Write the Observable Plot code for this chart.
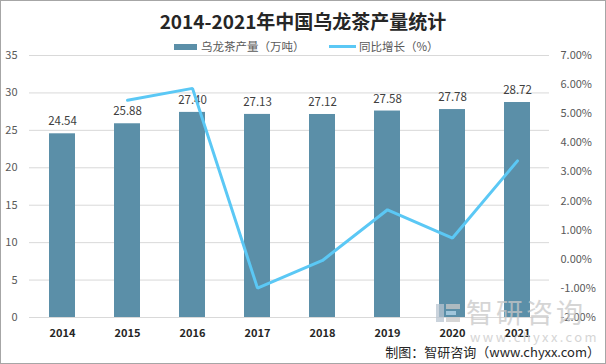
<!DOCTYPE html>
<html><head><meta charset="utf-8">
<script src="https://cdn.jsdelivr.net/npm/d3@7"></script>
<script src="https://cdn.jsdelivr.net/npm/@observablehq/plot@0.6"></script>
<style>
body{margin:0;background:#fff;}
#wrap{position:relative;width:606px;height:364px;overflow:hidden;font-family:"Noto Sans CJK SC","Noto Sans",sans-serif;}
#border{position:absolute;left:0;top:0;width:604px;height:362px;border:1px solid #a6a6a6;pointer-events:none;}
#title{position:absolute;left:0;width:606px;top:8px;text-align:center;font-size:19px;font-weight:bold;color:#262626;line-height:26px;}
.leg{position:absolute;top:38px;font-size:11.5px;color:#595959;line-height:16px;white-space:nowrap;}
.sw{position:absolute;}
#caption{position:absolute;right:6px;top:343px;font-size:13px;color:#262626;line-height:18px;white-space:nowrap;}
.wm{position:absolute;color:#c8c8c8;white-space:nowrap;opacity:0.75;}
</style></head>
<body>
<div id="wrap">
  <div id="chart"></div>
  <div class="wm" style="left:436px;top:304px;width:8px;height:18px;background:#b8c4d0;"></div>
  <div class="wm" style="left:446px;top:304px;width:14px;height:5px;background:#c8c8c8;"></div>
  <div class="wm" style="left:446px;top:311px;width:10px;height:4px;background:#b8d8ec;"></div>
  <div class="wm" style="left:446px;top:317px;width:14px;height:5px;background:#c8c8c8;"></div>
  <div class="wm" style="left:466px;top:293px;font-size:27px;letter-spacing:3px;line-height:38px;">智研咨询</div>
  <div class="wm" style="left:470px;top:329px;font-size:13px;letter-spacing:2.4px;line-height:16px;">www.chyxx.com</div>
  <div id="title">2014-2021年中国乌龙茶产量统计</div>
  <div class="sw" style="left:174px;top:44px;width:23px;height:6px;background:#5B8FA8;"></div>
  <div class="leg" style="left:201px;">乌龙茶产量（万吨）</div>
  <div class="sw" style="left:329px;top:45px;width:27px;height:3px;background:#5BC8F5;"></div>
  <div class="leg" style="left:359px;">同比增长（%）</div>
  <div id="caption">制图：智研咨询（www.chyxx.com）</div>
  <div id="border"></div>
</div>
<script>
const years = ["2014","2015","2016","2017","2018","2019","2020","2021"];
const output = [24.54, 25.88, 27.40, 27.13, 27.12, 27.58, 27.78, 28.72];
const growthYears = ["2015","2016","2017","2018","2019","2020","2021"];
const growth = [5.46, 5.87, -0.99, -0.04, 1.70, 0.73, 3.38];
const leftTicks = [0, 5, 10, 15, 20, 25, 30, 35];
const rightTicks = [-2, -1, 0, 1, 2, 3, 4, 5, 6, 7];

const leftMax = 35, rMin = -2, rMax = 7;
const toLeft = p => (p - rMin) * leftMax / (rMax - rMin);
const fromLeft = v => v * (rMax - rMin) / leftMax + rMin;

const bars = years.map((y, i) => ({year: y, value: output[i]}));
const lineData = growthYears.map((y, i) => ({year: y, g: growth[i]}));

const chart = Plot.plot({
  width: 606, height: 364,
  marginTop: 55, marginBottom: 47, marginLeft: 29, marginRight: 57,
  style: {fontFamily: '"Noto Sans CJK SC","Noto Sans",sans-serif', background: "transparent", overflow: "visible"},
  x: {domain: years, paddingInner: 0.6, paddingOuter: 0.3, label: null},
  y: {domain: [0, leftMax], label: null},
  marks: [
    Plot.ruleY(leftTicks, {stroke: "#d9d9d9", strokeWidth: 1}),
    Plot.barY(bars, {x: "year", y: "value", fill: "#5B8FA8"}),
    Plot.text(bars, {x: "year", y: "value", text: d => d.value.toFixed(2), dy: -12, fontSize: 11.5, fill: "#404040"}),
    Plot.line(lineData, {x: "year", y: d => toLeft(d.g), stroke: "#5BC8F5", strokeWidth: 3, strokeLinejoin: "miter"}),
    Plot.axisY(leftTicks, {anchor: "left", tickSize: 0, tickPadding: 12, fontSize: 11, color: "#595959", label: null}),
    Plot.axisY(rightTicks.map(toLeft), {anchor: "right", tickSize: 0, tickPadding: 11, fontSize: 11, color: "#595959", label: null,
      tickFormat: d => fromLeft(d).toFixed(2) + "%"}),
    Plot.axisX({anchor: "bottom", tickSize: 0, tickPadding: 12, fontSize: 11, fontWeight: "bold", color: "#262626", label: null})
  ]
});
document.getElementById("chart").appendChild(chart);
</script>
</body></html>
